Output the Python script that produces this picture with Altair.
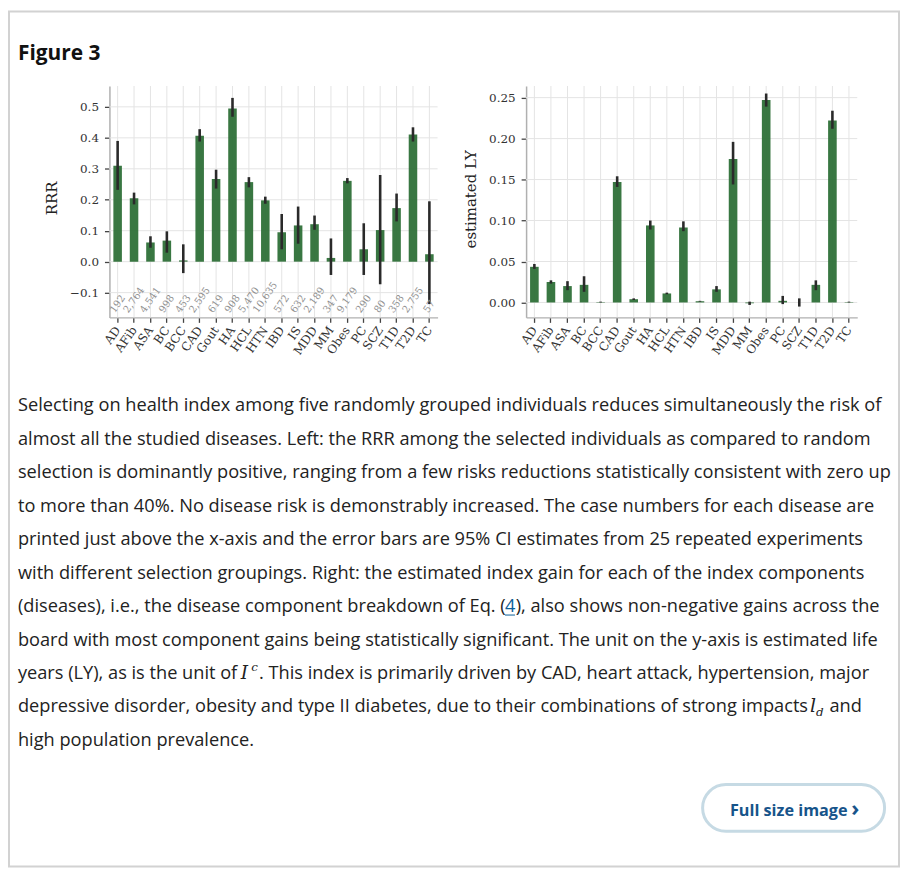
import altair as alt
import pandas as pd

# ---------------- data ----------------
cats = ["AD", "AFib", "ASA", "BC", "BCC", "CAD", "Gout", "HA", "HCL", "HTN",
        "IBD", "IS", "MDD", "MM", "Obes", "PC", "SCZ", "T1D", "T2D", "TC"]

rrr = [0.310, 0.205, 0.062, 0.068, 0.004, 0.407, 0.267, 0.495, 0.257, 0.198,
       0.095, 0.117, 0.121, 0.012, 0.261, 0.040, 0.102, 0.173, 0.411, 0.024]
rrr_lo = [0.232, 0.185, 0.045, 0.029, -0.037, 0.388, 0.236, 0.468, 0.240, 0.187,
          0.040, 0.058, 0.103, -0.043, 0.253, -0.043, -0.073, 0.130, 0.388, -0.137]
rrr_hi = [0.390, 0.223, 0.082, 0.098, 0.056, 0.428, 0.297, 0.529, 0.273, 0.210,
          0.154, 0.178, 0.149, 0.075, 0.270, 0.124, 0.280, 0.220, 0.434, 0.195]
cases = ["192", "2,764", "4,541", "998", "453", "2,595", "619", "908", "5,470", "10,635",
         "572", "632", "2,189", "347", "9,179", "290", "80", "358", "2,755", "57"]

ly = [0.0435, 0.025, 0.020, 0.0215, 0.0005, 0.147, 0.004, 0.094, 0.011, 0.0915,
      0.0015, 0.016, 0.175, -0.001, 0.247, 0.002, 0.000, 0.0215, 0.222, 0.0005]
ly_lo = [0.041, 0.023, 0.015, 0.013, 0.000, 0.141, 0.003, 0.089, 0.010, 0.087,
         0.001, 0.013, 0.144, -0.003, 0.239, -0.002, -0.005, 0.015, 0.212, 0.000]
ly_hi = [0.047, 0.027, 0.026, 0.032, 0.001, 0.154, 0.005, 0.100, 0.012, 0.099,
         0.002, 0.020, 0.196, 0.001, 0.255, 0.008, 0.005, 0.027, 0.234, 0.001]

left_ticks = [-0.1, 0.0, 0.1, 0.2, 0.3, 0.4, 0.5]
right_ticks = [0.0, 0.05, 0.10, 0.15, 0.20, 0.25]

caption_lines = [
    "Selecting on health index among five randomly grouped individuals reduces simultaneously the risk of",
    "almost all the studied diseases. Left: the RRR among the selected individuals as compared to random",
    "selection is dominantly positive, ranging from a few risks reductions statistically consistent with zero up",
    "to more than 40%. No disease risk is demonstrably increased. The case numbers for each disease are",
    "printed just above the x-axis and the error bars are 95% CI estimates from 25 repeated experiments",
    "with different selection groupings. Right: the estimated index gain for each of the index components",
    "(diseases), i.e., the disease component breakdown of Eq. (",
    "board with most component gains being statistically significant. The unit on the y-axis is estimated life",
    "years (LY), as is the unit of",
    "depressive disorder, obesity and type II diabetes, due to their combinations of strong impacts",
    "high population prevalence.",
]
line7_link = "4"
line7_tail = "), also shows non-negative gains across the"
line9_tail = ". This index is primarily driven by CAD, heart attack, hypertension, major"
line10_tail = "and"

# ---------------- layout / style ----------------
W, H = 898, 862
TOP, BOT = 76, 308.7
SERIF = "DejaVu Serif"
SANS = "Open Sans"
GREEN = "#2e7038"
TXT = "#222222"
LINK = "#0b5f99"
CAP_Y0, CAP_DY = 403, 33.67
CAP_FS = 18.3
CAP_X = 10


def base(i):
    return CAP_Y0 + CAP_DY * i


def panel(df, xr, ydom, yticks, fmt, with_cases=False):
    xs = alt.Scale(domain=cats, range=xr, paddingInner=0.48, paddingOuter=0.24)
    ys = alt.Scale(domain=ydom, range=[BOT, TOP], nice=False, zero=False)
    x_axis = alt.Axis(orient="bottom", offset=-(H - BOT), title=None, labelAngle=-55,
                      labelAlign="right", labelBaseline="middle", labelPadding=5,
                      labelFont=SERIF, labelFontSize=12, labelColor="#333333",
                      tickSize=5, tickColor="#444444", tickWidth=1.3,
                      domainColor="#b0b0b0", domainWidth=1.5, grid=False)
    y_axis = alt.Axis(orient="left", offset=-xr[0], title=None, values=yticks,
                      labelExpr=f"replace(format(datum.value, '{fmt}'), '-', '\u2212')",
                      labelPadding=6, labelFont=SERIF, labelFontSize=12,
                      labelColor="#333333", tickSize=5, tickColor="#444444",
                      tickWidth=1.3, domainColor="#b0b0b0", domainWidth=1.5, grid=False)
    xenc = alt.X("cat:N", scale=xs, sort=cats, axis=x_axis)
    base_c = alt.Chart(df)
    vgrid = base_c.mark_rule(color="#e4e4e4", strokeWidth=1).encode(
        x=xenc, y=alt.value(TOP), y2=alt.value(BOT))
    hgrid = alt.Chart(pd.DataFrame({"t": yticks})).mark_rule(
        color="#e4e4e4", strokeWidth=1).encode(
        y=alt.Y("t:Q", scale=ys, axis=y_axis), x=alt.value(xr[0]), x2=alt.value(xr[1]))
    bars = base_c.mark_bar(color=GREEN, opacity=0.95).encode(
        x=xenc, y=alt.Y("v:Q", scale=ys, axis=y_axis), y2=alt.datum(0))
    err = base_c.mark_rule(color="#2a2a2a", strokeWidth=2.6).encode(
        x=xenc, y=alt.Y("lo:Q", scale=ys, axis=y_axis), y2="hi:Q")
    layers = [vgrid, hgrid, bars, err]
    if with_cases:
        ppu = (BOT - TOP) / (ydom[1] - ydom[0])
        expr = (f"-0.168 + ((length(replace(datum.n, ',', '')) * 6.36 + "
                f"(indexof(datum.n, ',') >= 0 ? 3.18 : 0)) * 0.819 + 4.0) / 2 / {ppu}")
        labels = base_c.transform_calculate(ny=expr).mark_text(
            angle=305, align="center", baseline="middle", font=SERIF, fontSize=10,
            color="#8f8f8f").encode(
            x=xenc, y=alt.Y("ny:Q", scale=ys, axis=y_axis), text="n:N")
        layers.append(labels)
    return alt.layer(*layers)


df_left = pd.DataFrame({"cat": cats, "v": rrr, "lo": rrr_lo, "hi": rrr_hi, "n": cases})
df_right = pd.DataFrame({"cat": cats, "v": ly, "lo": ly_lo, "hi": ly_hi})

left = panel(df_left, [102, 432], [-0.18, 0.5675], left_ticks, ".1f", with_cases=True)
right = panel(df_right, [521, 854], [-0.0182, 0.2642], right_ticks, ".2f")

one = pd.DataFrame({"k": [0]})


def txt(text, x, y, **kw):
    return alt.Chart(one).mark_text(text=text, **kw).encode(x=alt.value(x), y=alt.value(y))


def cap(text, x, i, **kw):
    kw.setdefault("color", TXT)
    return txt(text, x, base(i), font=SANS, fontSize=CAP_FS, align="left",
               baseline="alphabetic", **kw)


border = alt.Chart(one).mark_rect(filled=False, stroke="#d2d2d2", strokeWidth=2).encode(
    x=alt.value(1), x2=alt.value(896), y=alt.value(1), y2=alt.value(861))

fig_title = txt("Figure 3", 10, 50, font=SANS, fontSize=21, fontWeight="bold",
                color="#111111", align="left", baseline="alphabetic")

ytitle_l = txt("RRR", 44, 189, font=SERIF, fontSize=15, angle=270, color=TXT,
               align="center", baseline="middle")
ytitle_r = txt("estimated LY", 466, 190, font=SERIF, fontSize=15, angle=270, color=TXT,
               align="center", baseline="middle")

cap_df = pd.DataFrame({"line": caption_lines, "i": list(range(len(caption_lines)))})
caption = alt.Chart(cap_df).transform_calculate(
    yb=f"{CAP_Y0} + datum.i * {CAP_DY}").mark_text(
    align="left", baseline="alphabetic", font=SANS, fontSize=CAP_FS, color=TXT).encode(
    x=alt.value(CAP_X), y=alt.Y("yb:Q", scale=None), text="line:N")

link4 = cap(line7_link, 499.8, 6, color=LINK)
link_ul = alt.Chart(one).mark_rule(color=LINK, strokeWidth=1).encode(
    x=alt.value(499.8), x2=alt.value(509.8), y=alt.value(base(6) + 3))
tail7 = cap(line7_tail, 510.5, 6)
tail9 = cap(line9_tail, 252.5, 8)
tail10 = cap(line10_tail, 826, 9)

MATH = "DejaVu Serif"
math_I = txt("I", 234, base(8), font=MATH, fontSize=18.5, fontStyle="italic",
             color=TXT, align="left", baseline="alphabetic")
math_c = txt("c", 244.5, base(8) - 8, font=MATH, fontSize=12, fontStyle="italic",
             color=TXT, align="left", baseline="alphabetic")
math_l = txt("l", 806.5, base(9), font=MATH, fontSize=19, fontStyle="italic",
             color=TXT, align="left", baseline="alphabetic")
math_d = txt("d", 812.5, base(9) + 3.5, font=MATH, fontSize=12, fontStyle="italic",
             color=TXT, align="left", baseline="alphabetic")

button = alt.Chart(one).mark_rect(fill="white", stroke="#c6dae4", strokeWidth=3,
                                  cornerRadius=24).encode(
    x=alt.value(698.5), x2=alt.value(881.5), y=alt.value(778.5), y2=alt.value(825.5))
button_txt = txt("Full size image", 726, 810, font=SANS, fontSize=16.3, fontWeight="bold",
                 color="#17548a", align="left", baseline="alphabetic")
button_chev = txt("\u203a", 852, 810, font=SANS, fontSize=22, fontWeight="bold",
                  color="#17548a", align="center", baseline="alphabetic")

chart = alt.layer(
    border, fig_title, left, right, ytitle_l, ytitle_r, caption,
    link4, link_ul, tail7, tail9, tail10, math_I, math_c, math_l, math_d,
    button, button_txt, button_chev,
).resolve_scale(x="independent", y="independent").properties(
    width=W, height=H, autosize=alt.AutoSizeParams(type="none"), padding=0,
    background="white",
).configure_view(stroke=None)

chart.save("out.html", embed_options={"renderer": "svg", "actions": False})
